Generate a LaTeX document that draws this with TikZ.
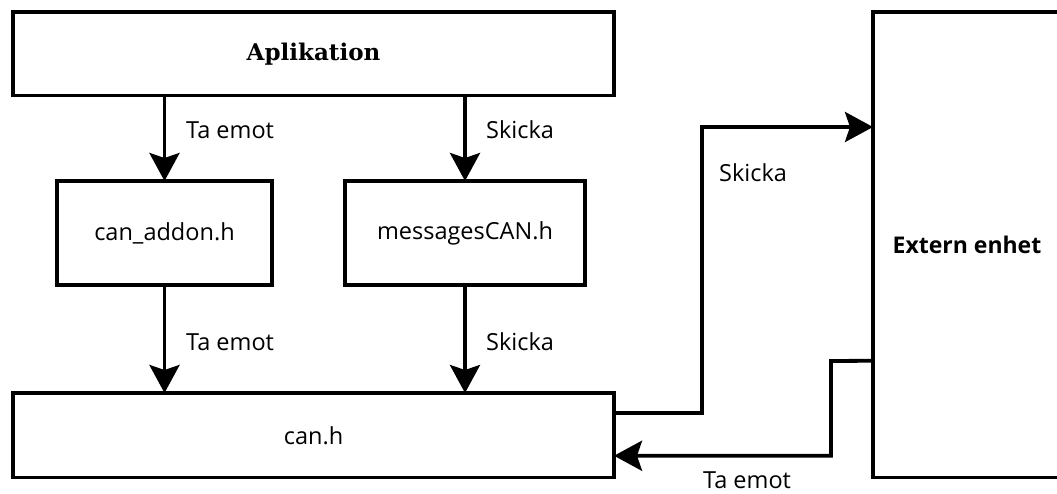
\documentclass[tikz,border=0pt]{standalone}
\usepackage{fontspec}
\setmainfont{Open Sans}
\newfontfamily\aplfont{DejaVu Serif}
\usetikzlibrary{arrows.meta,calc}
\tikzset{
  box/.style={draw=black, line width=3.8pt, rectangle, inner sep=0pt, outer sep=0pt, fill=white},
  conn/.style={line width=3.8pt, -{Stealth[length=28pt,width=30pt,inset=5pt]}},
  txt/.style={font=\fontsize{23.5}{28}\selectfont},
  lbl/.style={anchor=base west, inner sep=0pt, txt},
}
\begin{document}
\begin{tikzpicture}[x=1pt,y=-1pt]
\useasboundingbox (0,0) rectangle (1057,493);
\node[box, minimum width=601pt, minimum height=83.5pt, font=\aplfont\bfseries\fontsize{23}{28}\selectfont] (apl) at (313.5,53.75) {Aplikation};
\node[box, txt, minimum width=215pt, minimum height=104pt] (addon) at (164.5,233) {can\_addon.h};
\node[box, txt, minimum width=240pt, minimum height=104pt] (msg) at (465,233) {messagesCAN.h};
\node[box, txt, minimum width=601pt, minimum height=84.5pt] (can) at (313.5,435.25) {can.h};
\node[box, minimum width=188pt, minimum height=465.5pt, font=\bfseries\fontsize{23}{28}\selectfont] (ext) at (967,244.75) {Extern enhet};

\draw[conn] (apl.south -| addon.north) -- (addon.north);
\draw[conn] (apl.south -| msg.north) -- (msg.north);
\draw[conn] (addon.south) -- (can.north -| addon.south);
\draw[conn] (msg.south) -- (can.north -| msg.south);

\coordinate (sk1) at ([yshift=22.5pt]can.east);
\coordinate (te1) at ([yshift=-116pt]ext.west);
\coordinate (te2) at ([yshift=-20.5pt]can.east);
\draw[conn] (sk1) -- ++(88,0) coordinate (skc) |- (ext.west |- 0,127);
\draw[conn] (te1) -- (831,361) |- (te2);

\node[lbl] (l1) at (186,138) {Ta emot};
\node[lbl] (l2) at (486,138) {Skicka};
\node[lbl] (l3) at (186,350) {Ta emot};
\node[lbl] (l4) at (486,350) {Skicka};
\node[lbl] (l5) at (719,181) {Skicka};
\node[lbl] (l6) at (703,488) {Ta emot};
\end{tikzpicture}
\end{document}
